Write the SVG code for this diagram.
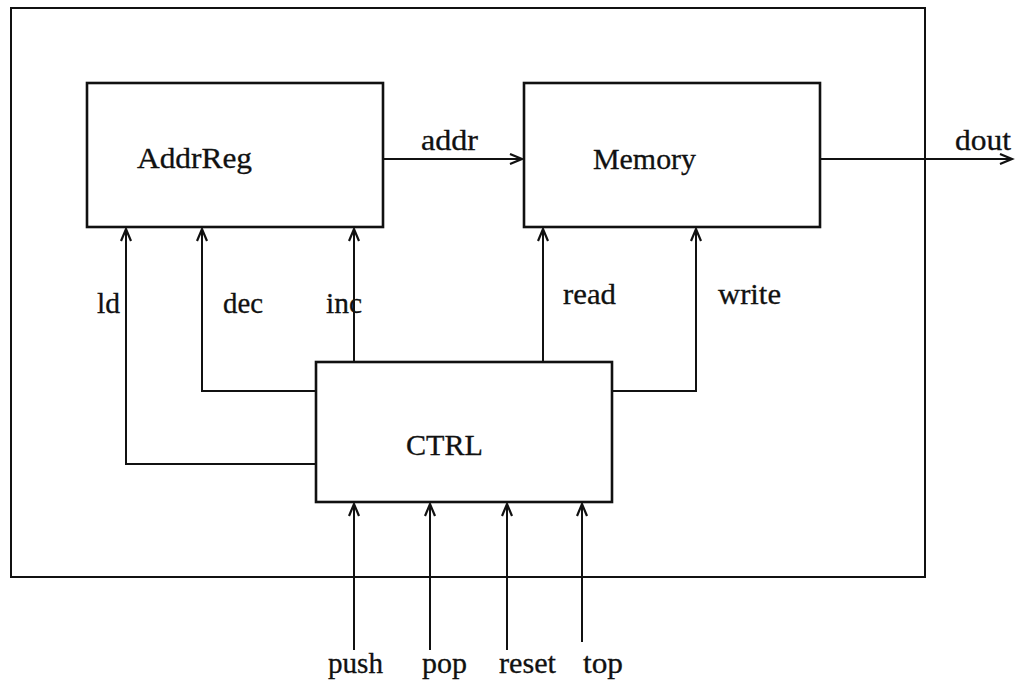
<svg xmlns="http://www.w3.org/2000/svg" width="1017" height="684" viewBox="0 0 1017 684">
<defs>
<marker id="ah" markerUnits="userSpaceOnUse" markerWidth="16" markerHeight="14" refX="13" refY="6" orient="auto">
<path d="M1,1 L13,6 L1,11" fill="none" stroke="#111" stroke-width="2.2"/>
</marker>
<style>
.box{fill:none;stroke:#111;stroke-width:2.6}
.frame{fill:none;stroke:#111;stroke-width:2}
.w{fill:none;stroke:#111;stroke-width:2}
.t{font-family:"Liberation Serif","DejaVu Serif",serif;font-size:29px;fill:#111;stroke:#111;stroke-width:0.3}
</style>
</defs>
<rect width="1017" height="684" fill="#fff"/>
<rect class="frame" x="11" y="8" width="914" height="569"/>
<g id="AddrReg">
<rect class="box" x="87" y="83" width="296" height="144"/>
<text class="t" x="137" y="168" textLength="115" lengthAdjust="spacingAndGlyphs">AddrReg</text>
</g>
<g id="Memory">
<rect class="box" x="524" y="83" width="296" height="144"/>
<text class="t" x="593" y="169" textLength="103" lengthAdjust="spacingAndGlyphs">Memory</text>
</g>
<g id="CTRL">
<rect class="box" x="316" y="362" width="296" height="140"/>
<text class="t" x="406" y="455" textLength="77" lengthAdjust="spacingAndGlyphs">CTRL</text>
</g>
<g id="connectors">
<path class="w" d="M383,159 L522,159" marker-end="url(#ah)"/>
<path class="w" d="M820,159 L1012,159" marker-end="url(#ah)"/>
<path class="w" d="M316,464 L126,464 L126,229" marker-end="url(#ah)"/>
<path class="w" d="M316,391 L202,391 L202,229" marker-end="url(#ah)"/>
<path class="w" d="M354,362 L354,229" marker-end="url(#ah)"/>
<path class="w" d="M543,362 L543,229" marker-end="url(#ah)"/>
<path class="w" d="M612,391 L696,391 L696,229" marker-end="url(#ah)"/>
<path class="w" d="M354,650 L354,504" marker-end="url(#ah)"/>
<path class="w" d="M430,650 L430,504" marker-end="url(#ah)"/>
<path class="w" d="M507,650 L507,504" marker-end="url(#ah)"/>
<path class="w" d="M582,642 L582,504" marker-end="url(#ah)"/>
</g>
<g id="labels">
<text class="t" x="421" y="150" textLength="57" lengthAdjust="spacingAndGlyphs">addr</text>
<text class="t" x="955" y="150" textLength="56" lengthAdjust="spacingAndGlyphs">dout</text>
<text class="t" x="97" y="313" textLength="23" lengthAdjust="spacingAndGlyphs">ld</text>
<text class="t" x="223" y="313" textLength="40" lengthAdjust="spacingAndGlyphs">dec</text>
<text class="t" x="326" y="313" textLength="36" lengthAdjust="spacingAndGlyphs">inc</text>
<text class="t" x="563" y="304" textLength="53" lengthAdjust="spacingAndGlyphs">read</text>
<text class="t" x="718" y="304" textLength="63" lengthAdjust="spacingAndGlyphs">write</text>
<text class="t" x="328" y="673" textLength="55" lengthAdjust="spacingAndGlyphs">push</text>
<text class="t" x="422" y="673" textLength="45" lengthAdjust="spacingAndGlyphs">pop</text>
<text class="t" x="499" y="673" textLength="57" lengthAdjust="spacingAndGlyphs">reset</text>
<text class="t" x="583" y="673" textLength="40" lengthAdjust="spacingAndGlyphs">top</text>
</g>
</svg>
